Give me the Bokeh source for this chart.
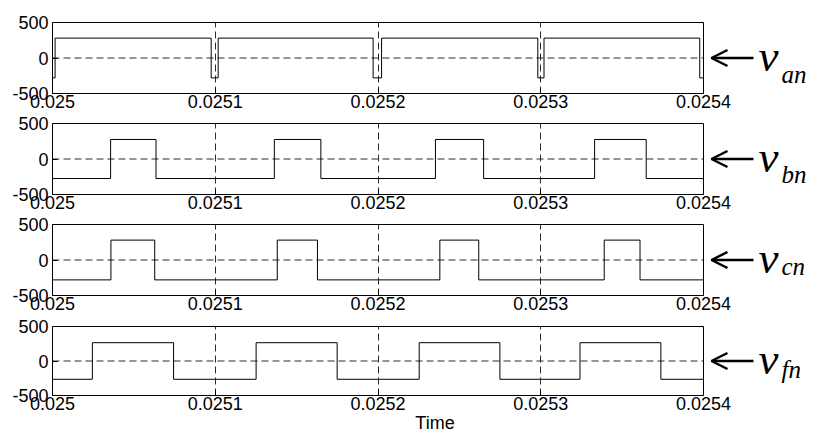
from bokeh.plotting import figure
from bokeh.models import Range1d, FixedTicker, Label, LinearAxis, Span, Arrow, OpenHead
from bokeh.layouts import column
from bokeh.embed import file_html
from bokeh.resources import INLINE

# ---------------- data ----------------
x_ticks = [0.025, 0.0251, 0.0252, 0.0253, 0.0254]
x_tick_labels = ["0.025", "0.0251", "0.0252", "0.0253", "0.0254"]
y_ticks = [-500, 0, 500]
y_tick_labels = ["-500", "0", "500"]

# switching instants (s) and the level held from each instant on (V)
van_t = [0.025, 0.0250016, 0.0250975, 0.0251018, 0.0251970, 0.0252022,
         0.0252982, 0.0253020, 0.0253977, 0.0254]
van_v = [-280, 280, -280, 280, -280, 280, -280, 280, -280, -280]

vbn_t = [0.025, 0.0250357, 0.0250636, 0.0251363, 0.0251649, 0.0252353,
         0.0252649, 0.0253331, 0.0253648, 0.0254]
vbn_v = [-275, 275, -275, 275, -275, 275, -275, 275, -275, -275]

vcn_t = [0.025, 0.0250359, 0.0250628, 0.0251381, 0.0251628, 0.0252380,
         0.0252619, 0.0253390, 0.0253610, 0.0254]
vcn_v = [-280, 280, -280, 280, -280, 280, -280, 280, -280, -280]

vfn_t = [0.025, 0.0250245, 0.0250744, 0.0251251, 0.0251749, 0.0252253,
         0.0252749, 0.0253241, 0.0253738, 0.0254]
vfn_v = [-265, 265, -265, 265, -265, 265, -265, 265, -265, -265]

series_t = [van_t, vbn_t, vcn_t, vfn_t]
series_v = [van_v, vbn_v, vcn_v, vfn_v]
subscripts = ["an", "bn", "cn", "fn"]
x_label = "Time"

# ---------------- layout ----------------
W = 817
LEFT = 52
PLOT_W = 651                 # width of the boxed axes area
heights = [112, 101, 101, 121]
top_b = [22, 11, 11, 12]
bot_b = [19, 19, 19, 37]
v_dy = [2, 2, 2, 2]
sub_dy = [-16, -15, -6, -8]

x0, x1 = x_ticks[0], x_ticks[-1]
ppu = PLOT_W / (x1 - x0)                     # pixels per second
x_end = x1 + (W - LEFT - PLOT_W) / ppu        # frame extends under the label area

def px(dx):
    return x1 + dx / ppu

TICK_FONT = "Liberation Sans"
SERIF = "Liberation Serif"
GRID = "#2a2a2a"

figs = []
for i in range(4):
    p = figure(width=W, height=heights[i], output_backend="svg", toolbar_location=None,
               x_range=Range1d(x0, x_end), y_range=Range1d(y_ticks[0], y_ticks[-1]),
               min_border_left=LEFT, min_border_right=0,
               min_border_top=top_b[i], min_border_bottom=bot_b[i])
    p.background_fill_color = "white"
    p.border_fill_color = "white"
    p.outline_line_color = None

    xb = p.xaxis[0]
    yl = p.yaxis[0]
    xgrid = p.xgrid[0]
    ygrid = p.ygrid[0]

    xb.ticker = FixedTicker(ticks=x_ticks)
    xb.major_label_overrides = dict(zip(x_ticks, x_tick_labels))
    xb.bounds = (x0, x1)
    yl.ticker = FixedTicker(ticks=y_ticks)
    yl.major_label_overrides = dict(zip(y_ticks, y_tick_labels))

    # top edge of the box (axis line only, no ticks or labels)
    top_ax = LinearAxis(ticker=FixedTicker(ticks=[]), bounds=(x0, x1),
                        major_label_standoff=0, axis_line_color="black",
                        major_tick_in=0, major_tick_out=0, minor_tick_line_color=None)
    p.add_layout(top_ax, "above")

    for ax in (xb, yl):
        ax.axis_line_color = "black"
        ax.major_tick_line_color = "black"
        ax.major_tick_in = 5
        ax.major_tick_out = 0
        ax.minor_tick_line_color = None
        ax.major_label_text_font = TICK_FONT
        ax.major_label_text_font_size = "18px"
        ax.major_label_text_color = "black"
    xb.major_label_standoff = 1
    yl.major_label_standoff = 4

    # right edge of the box
    p.add_layout(Span(location=x1, dimension="height", line_color="black", line_width=1))

    # grids: dashed verticals at the x ticks, dashed horizontal at y = 0
    xgrid.grid_line_color = GRID
    xgrid.grid_line_dash = "7 4"
    ygrid.grid_line_color = None
    inner_y = y_ticks[1:-1]
    p.segment(x0=[x0] * len(inner_y), x1=[x1] * len(inner_y), y0=inner_y, y1=inner_y,
              line_color=GRID, line_dash="7 4", line_width=1)

    p.step(series_t[i], series_v[i], mode="after", line_color="black", line_width=1)

    # right-hand annotation:  <- v_xx
    p.add_layout(Arrow(x_start=px(50), y_start=0, x_end=px(8), y_end=0,
                       line_color="black", line_width=2.5,
                       end=OpenHead(size=16, line_width=2.5, line_color="black")))
    p.add_layout(Label(x=x1, y=0, x_offset=55, y_offset=v_dy[i], text="v",
                       text_font=SERIF, text_font_style="italic", text_font_size="45px",
                       text_color="black", text_baseline="alphabetic"))
    p.add_layout(Label(x=x1, y=0, x_offset=78, y_offset=sub_dy[i], text=subscripts[i],
                       text_font=SERIF, text_font_style="italic", text_font_size="25px",
                       text_color="black", text_baseline="alphabetic"))

    if i == 3:
        xb.axis_label = x_label
        xb.axis_label_text_font = TICK_FONT
        xb.axis_label_text_font_size = "18px"
        xb.axis_label_text_font_style = "normal"
        xb.axis_label_text_color = "black"
        xb.axis_label_standoff = 0
    figs.append(p)

layout = column(*figs, spacing=0)
open("out.html", "w").write(file_html(layout, INLINE))
